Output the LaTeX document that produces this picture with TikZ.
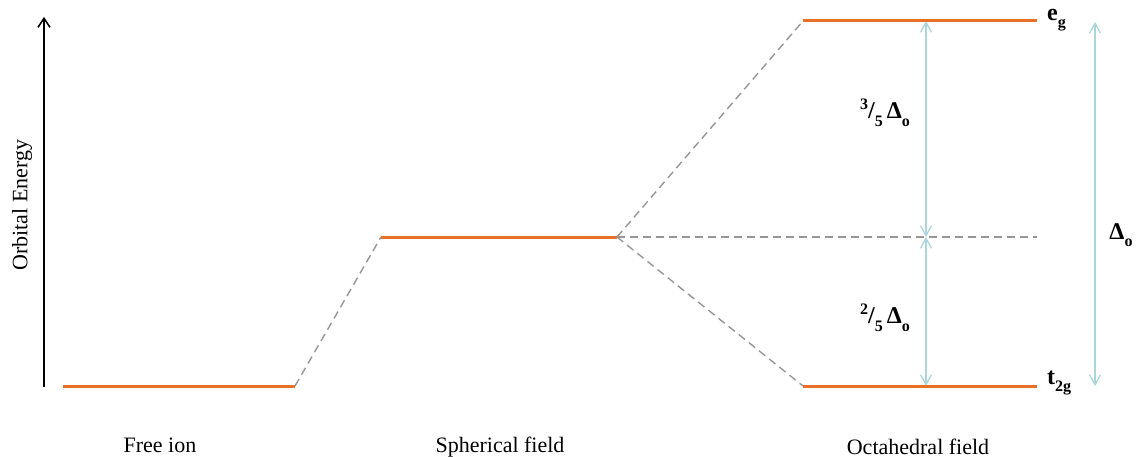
\documentclass[tikz,border=0pt]{standalone}
\usepackage{fontspec}
\setmainfont{Liberation Serif}
\usetikzlibrary{arrows.meta}
\definecolor{lvl}{RGB}{232,112,38}
\definecolor{dsh}{RGB}{150,150,150}
\definecolor{lblue}{RGB}{172,214,222}
\newcommand\lsub[1]{\raisebox{-0.32em}{\fontsize{16}{16}\selectfont #1}}
\newcommand\lsup[1]{\raisebox{0.38em}{\fontsize{16}{16}\selectfont #1}}
\begin{document}
\begin{tikzpicture}[x=1pt,y=-1pt,
  level/.style={draw=lvl,line width=3pt},
  corr/.style={draw=dsh,dashed,dash pattern=on 8pt off 5pt,line width=1.4pt},
  gap/.style={draw=lblue,line width=1.3pt,{Straight Barb[length=10pt,width=11pt]}-{Straight Barb[length=10pt,width=11pt]}},
  lab/.style={font=\fontsize{22}{24}\selectfont,inner sep=0pt},
  blab/.style={font=\fontsize{24}{26}\selectfont\bfseries,inner sep=0pt}]
\useasboundingbox (0,0) rectangle (1137,457);
% coordinates
\coordinate (fiL) at (63,386);
\coordinate (fiR) at (295,386);
\coordinate (spL) at (381,237);
\coordinate (spR) at (617,237);
\coordinate (egL) at (803,21);
\coordinate (egR) at (1037,21);
\coordinate (tgL) at (803,386);
\coordinate (tgR) at (1037,386);
\coordinate (bary) at (1037,237);
\coordinate (axB) at (44,387);
\coordinate (axT) at (44,17);
\coordinate (aT) at (926,21);
\coordinate (aM) at (926,237);
\coordinate (aB) at (926,386);
\coordinate (bT) at (1095,22);
\coordinate (bB) at (1095,386);
% axis
\draw[line width=1.5pt,-{Straight Barb[length=9pt,width=12pt]}] (axB) -- (axT);
\node[lab,rotate=90] (yl) at (22,205) {Orbital Energy};
% correlation lines
\draw[corr] (fiR) -- (spL);
\draw[corr] (spR) -- (egL);
\draw[corr] (spR) -- (tgL);
\draw[corr] (spR) -- (bary);
% gap arrows
\draw[gap] (aT) -- (aM);
\draw[gap] (aM) -- (aB);
\draw[gap] (bT) -- (bB);
% levels
\draw[level] (fiL) -- (fiR);
\draw[level] (spL) -- (spR);
\draw[level] (egL) -- (egR);
\draw[level] (tgL) -- (tgR);
% labels
\node[blab,anchor=west] (eg) at (1047,20) {e\lsub{g}};
\node[blab,anchor=west] (tg) at (1047,383) {t\lsub{2g}};
\node[blab] (d35) at (885,113) {\lsup{3}/\lsub{5}\,Δ\lsub{o}};
\node[blab] (d25) at (885,318) {\lsup{2}/\lsub{5}\,Δ\lsub{o}};
\node[blab] (dO) at (1121,235) {Δ\lsub{o}};
\node[lab,anchor=base] (fi) at (160,452) {Free ion};
\node[lab,anchor=base] (sf) at (500,452) {Spherical field};
\node[lab,anchor=base] (of) at (918,454) {Octahedral field};
\end{tikzpicture}
\end{document}
